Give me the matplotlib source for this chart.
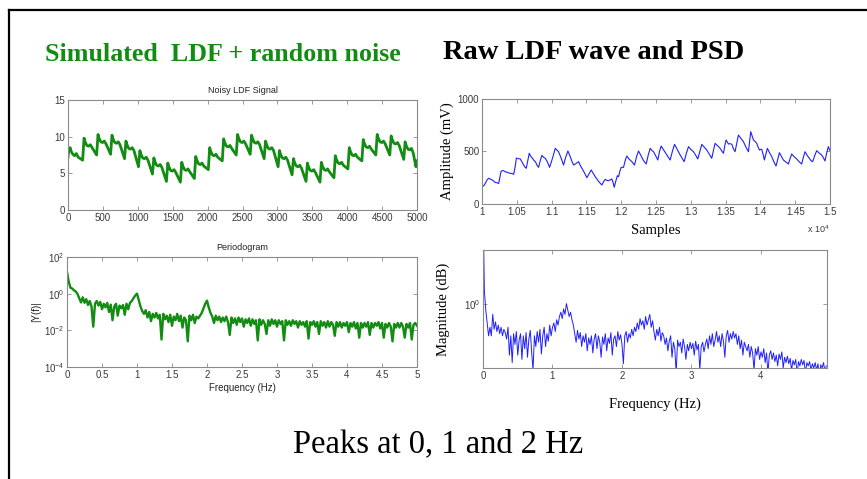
import numpy as np
import matplotlib
matplotlib.use('Agg')
import matplotlib.pyplot as plt
from matplotlib.lines import Line2D

plt.rcParams['font.family'] = ['Liberation Sans', 'DejaVu Sans']
plt.rcParams['mathtext.fontset'] = 'custom'
plt.rcParams['mathtext.rm'] = 'Liberation Sans'
plt.rcParams['mathtext.it'] = 'Liberation Sans:italic'

# --- noisy LDF signal (sample index, value) ---
sig_t = [0, 10, 30, 45, 70, 95, 120, 145, 210,
         230, 245, 270, 295, 320, 345, 410,
         430, 445, 470, 495, 520, 545, 610,
         630, 645, 670, 695, 720, 745, 810,
         830, 845, 870, 895, 920, 945, 1010,
         1030, 1045, 1070, 1095, 1120, 1145, 1210,
         1230, 1245, 1270, 1295, 1320, 1345, 1410,
         1430, 1445, 1470, 1495, 1520, 1545, 1610,
         1630, 1645, 1670, 1695, 1720, 1745, 1810,
         1830, 1845, 1870, 1895, 1920, 1945, 2010,
         2030, 2045, 2070, 2095, 2120, 2145, 2210,
         2230, 2245, 2270, 2295, 2320, 2345, 2410,
         2430, 2445, 2470, 2495, 2520, 2545, 2610,
         2630, 2645, 2670, 2695, 2720, 2745, 2810,
         2830, 2845, 2870, 2895, 2920, 2945, 3010,
         3030, 3045, 3070, 3095, 3120, 3145, 3210,
         3230, 3245, 3270, 3295, 3320, 3345, 3410,
         3430, 3445, 3470, 3495, 3520, 3545, 3610,
         3630, 3645, 3670, 3695, 3720, 3745, 3810,
         3830, 3845, 3870, 3895, 3920, 3945, 4010,
         4030, 4045, 4070, 4095, 4120, 4145, 4210,
         4230, 4245, 4270, 4295, 4320, 4345, 4410,
         4430, 4445, 4470, 4495, 4520, 4545, 4610,
         4630, 4645, 4670, 4695, 4720, 4745, 4810,
         4830, 4845, 4870, 4895, 4920, 4945, 4985, 5000]
sig_v = [7.2, 8.0, 8.5, 8.0, 7.6, 7.4, 7.7, 7.2, 6.8,
         9.8, 9.3, 8.8, 8.7, 8.9, 8.5, 7.5,
         10.3, 9.8, 9.3, 9.2, 9.4, 9.0, 7.6,
         10.2, 9.7, 9.2, 9.1, 9.3, 8.9, 7.0,
         9.4, 8.9, 8.4, 8.3, 8.5, 8.1, 5.9,
         8.1, 7.6, 7.1, 7.0, 7.2, 6.8, 4.9,
         7.1, 6.6, 6.1, 6.0, 6.2, 5.8, 3.9,
         6.4, 5.9, 5.4, 5.3, 5.5, 5.1, 3.8,
         6.5, 6.0, 5.5, 5.4, 5.6, 5.2, 4.3,
         7.3, 6.8, 6.3, 6.2, 6.4, 6.0, 5.5,
         8.5, 8.0, 7.5, 7.4, 7.6, 7.2, 6.7,
         9.7, 9.2, 8.7, 8.6, 8.8, 8.4, 7.5,
         10.3, 9.8, 9.3, 9.2, 9.4, 9.0, 7.6,
         10.2, 9.7, 9.2, 9.1, 9.3, 8.9, 7.0,
         9.4, 8.9, 8.4, 8.3, 8.5, 8.1, 5.9,
         8.1, 7.6, 7.1, 7.0, 7.2, 6.8, 4.8,
         7.0, 6.5, 6.0, 5.9, 6.1, 5.7, 3.9,
         6.4, 5.9, 5.4, 5.3, 5.5, 5.1, 3.8,
         6.5, 6.0, 5.5, 5.4, 5.6, 5.2, 4.4,
         7.4, 6.9, 6.4, 6.3, 6.5, 6.1, 5.6,
         8.5, 8.0, 7.5, 7.4, 7.6, 7.2, 6.7,
         9.6, 9.1, 8.6, 8.5, 8.7, 8.3, 7.5,
         10.3, 9.8, 9.3, 9.2, 9.4, 9.0, 7.5,
         10.1, 9.6, 9.1, 9.0, 9.2, 8.8, 6.9,
         9.3, 8.8, 8.3, 8.2, 8.4, 7.8, 5.9, 6.7]

# --- periodogram of the simulated signal, log10 |Y(f)|, 0..5 Hz ---
pgram_f = np.linspace(0, 5, 201)
pgram_log = [
    1.18, 0.65, 0.32, 0.28, 0.18, 0.12, -0.02, -0.25, -0.48, -0.20,
    -0.50, -0.30, -0.62, -0.40, -0.70, -1.80, -0.55, -0.40, -0.65, -0.45,
    -0.85, -0.55, -0.75, -0.50, -1.00, -0.60, -1.45, -0.70, -0.55, -1.20,
    -0.65, -0.80, -0.62, -1.15, -0.55, -0.85, -0.50, -0.40, -0.25, -0.10,
    0.00, -0.35, -0.70, -0.95, -1.10, -0.90, -1.30, -1.00, -1.50, -1.10,
    -1.30, -1.05, -1.35, -1.15, -2.50, -1.10, -1.40, -1.20, -1.55, -1.15,
    -1.75, -1.25, -1.45, -1.10, -1.50, -1.20, -1.85, -1.30, -1.45, -2.60,
    -1.20, -1.45, -1.15, -1.60, -1.25, -1.35, -1.20, -1.05, -0.80, -0.55,
    -0.38, -0.75, -1.05, -1.25, -1.60, -1.20, -1.45, -1.25, -1.55, -1.30,
    -1.50, -1.25, -1.55, -2.25, -1.30, -1.60, -1.35, -1.70, -1.30, -1.55,
    -1.35, -1.80, -1.40, -1.60, -1.35, -1.75, -1.40, -1.65, -1.45, -2.55,
    -1.40, -1.70, -1.45, -1.65, -2.20, -1.45, -1.75, -1.40, -1.65, -1.45,
    -1.80, -1.45, -1.65, -1.50, -2.55, -1.45, -1.70, -1.50, -1.75, -1.45,
    -1.65, -1.50, -1.85, -1.50, -1.70, -1.55, -1.80, -1.50, -2.45, -1.55,
    -1.70, -1.50, -1.80, -1.55, -2.20, -1.50, -1.75, -1.55, -1.85, -1.50,
    -1.80, -1.55, -1.70, -2.30, -1.55, -1.80, -1.55, -1.85, -1.60, -1.75,
    -1.55, -2.10, -1.60, -1.80, -1.55, -1.90, -1.60, -2.40, -1.60, -1.85,
    -1.60, -1.80, -1.55, -2.25, -1.60, -1.85, -1.60, -1.75, -1.55, -1.90,
    -1.60, -2.40, -1.65, -1.85, -1.60, -1.80, -2.60, -1.65, -1.85, -1.60,
    -1.85, -1.60, -1.80, -2.40, -1.65, -1.85, -1.60, -2.50, -1.70, -1.60,
    -1.75]

# --- raw LDF wave (sample, mV) ---
raw_t = [10000, 10003, 10024, 10050, 10072, 10095, 10120, 10145, 10167, 10190,
         10215, 10239, 10255, 10273, 10290, 10311, 10340, 10370, 10407, 10430,
         10455, 10475, 10494, 10520, 10550, 10575, 10598, 10620, 10636, 10660,
         10679, 10700, 10720, 10742, 10770, 10790, 10813, 10840, 10861, 10885,
         10909, 10940, 10971, 11010, 11053, 11075, 11100, 11135, 11172, 11200,
         11234, 11250, 11268, 11290, 11316, 11350, 11388, 11410, 11435, 11470,
         11507, 11540, 11569, 11600, 11627, 11675, 11722, 11745, 11770, 11795,
         11818, 11840, 11866, 11885, 11900, 11915, 11928, 11945, 11962, 11980,
         12000, 12033, 12060, 12081, 12110, 12153, 12191, 12220, 12249, 12285,
         12321, 12359, 12390, 12416, 12440, 12464, 12495, 12526, 12550, 12574,
         12615, 12656, 12703, 12735, 12766, 12805, 12847, 12904, 12935, 12967,
         13000, 13038, 13070, 13100, 13130, 13158, 13195, 13230, 13265, 13301,
         13325, 13349, 13385, 13421, 13445, 13469, 13490, 13507, 13525, 13541,
         13565, 13589, 13610, 13636, 13660, 13684, 13720, 13756, 13790, 13828,
         13845, 13861, 13880, 13900, 13925, 13947, 13965, 13986, 14000, 14019,
         14040, 14057, 14080, 14100, 14130, 14163, 14195, 14225, 14250, 14273,
         14300, 14330, 14365, 14402, 14425, 14450, 14485, 14522, 14560, 14593,
         14615, 14641, 14670, 14703, 14725, 14751, 14780, 14809, 14845, 14880,
         14905, 14928, 14950, 14976, 15000]
raw_mv = [700, 175, 171, 200, 229, 245, 238, 230, 219, 205,
          203, 195, 250, 308, 318, 317, 305, 300, 292, 290,
          283, 350, 438, 432, 429, 400, 371, 350, 340, 420,
          483, 455, 440, 419, 400, 370, 349, 420, 463, 445,
          435, 400, 349, 430, 530, 515, 498, 440, 371, 440,
          505, 480, 451, 410, 371, 385, 403, 370, 340, 300,
          251, 290, 324, 290, 260, 215, 181, 210, 235, 225,
          222, 230, 238, 200, 159, 200, 229, 270, 260, 310,
          349, 349, 420, 457, 430, 403, 371, 450, 505, 460,
          413, 381, 470, 530, 510, 498, 460, 419, 500, 552,
          510, 467, 419, 500, 568, 520, 467, 403, 480, 546,
          520, 498, 465, 429, 500, 568, 540, 514, 475, 435,
          510, 578, 555, 530, 505, 483, 560, 610, 590, 571,
          575, 568, 530, 498, 580, 657, 625, 594, 545, 498,
          600, 689, 650, 610, 595, 578, 545, 514, 520, 521,
          470, 419, 480, 530, 490, 451, 400, 362, 430, 489,
          455, 419, 400, 381, 430, 476, 450, 429, 400, 381,
          440, 498, 465, 435, 415, 403, 460, 508, 485, 467,
          440, 410, 480, 546, 508]
raw_xticks = [10000, 10500, 11000, 11500, 12000, 12500, 13000, 13500, 14000, 14500, 15000]
raw_xtick_labels = ['1', '1.05', '1.1', '1.15', '1.2', '1.25', '1.3', '1.35', '1.4', '1.45', '1.5']

# --- PSD of raw wave, log10 magnitude, 0..4.94 Hz ---
psd_f = np.arange(248) * 0.02
psd_log = [
    0.95, 0.12, -0.06, -0.18, -0.30, -0.22, -0.30, -0.10, -0.24, -0.17,
    -0.26, -0.20, -0.28, -0.22, -0.30, -0.24, -0.27, -0.33, -0.22, -0.48,
    -0.30, -0.55, -0.28, -0.38, -0.26, -0.48, -0.34, -0.28, -0.52, -0.30,
    -0.42, -0.27, -0.50, -0.33, -0.25, -0.45, -0.62, -0.30, -0.40, -0.26,
    -0.36, -0.24, -0.47, -0.30, -0.22, -0.40, -0.28, -0.35, -0.20, -0.30,
    -0.22, -0.18, -0.26, -0.15, -0.20, -0.12, -0.08, -0.14, -0.05, -0.10,
    0.00, -0.06, -0.12, -0.08, -0.15, -0.20, -0.28, -0.36, -0.25, -0.33,
    -0.27, -0.40, -0.30, -0.36, -0.28, -0.44, -0.32, -0.38, -0.30, -0.46,
    -0.33, -0.28, -0.42, -0.30, -0.36, -0.50, -0.31, -0.38, -0.28, -0.44,
    -0.32, -0.37, -0.27, -0.48, -0.33, -0.30, -0.40, -0.26, -0.34, -0.29,
    -0.38, -0.56, -0.30, -0.26, -0.36, -0.28, -0.32, -0.24, -0.30, -0.22,
    -0.26, -0.18, -0.24, -0.14, -0.20, -0.16, -0.24, -0.12, -0.20, -0.15,
    -0.10, -0.22, -0.16, -0.26, -0.34, -0.24, -0.30, -0.22, -0.35, -0.27,
    -0.30, -0.38, -0.32, -0.44, -0.35, -0.30, -0.50, -0.36, -0.42, -0.65,
    -0.34, -0.40, -0.36, -0.46, -0.33, -0.40, -0.52, -0.38, -0.44, -0.36,
    -0.42, -0.37, -0.48, -0.35, -0.43, -0.38, -0.62, -0.40, -0.36, -0.45,
    -0.38, -0.33, -0.42, -0.30, -0.38, -0.28, -0.40, -0.34, -0.26, -0.36,
    -0.30, -0.40, -0.28, -0.35, -0.50, -0.30, -0.25, -0.36, -0.28, -0.33,
    -0.26, -0.32, -0.28, -0.38, -0.30, -0.42, -0.34, -0.48, -0.36, -0.40,
    -0.44, -0.38, -0.50, -0.40, -0.46, -0.62, -0.42, -0.48, -0.40, -0.52,
    -0.45, -0.50, -0.42, -0.55, -0.46, -0.65, -0.48, -0.44, -0.52, -0.46,
    -0.54, -0.48, -0.58, -0.47, -0.52, -0.45, -0.60, -0.50, -0.55, -0.49,
    -0.56, -0.51, -0.62, -0.53, -0.57, -0.52, -0.66, -0.54, -0.58, -0.52,
    -0.57, -0.53, -0.65, -0.55, -0.58, -0.54, -0.62, -0.56, -0.60, -0.55,
    -0.62, -0.56, -0.68, -0.57, -0.60, -0.55, -0.63, -0.58]

GREEN = '#138c13'
SPINE = '#8a8a8a'
TICKTXT = '#3a3a3a'


def matlab_axes(ax):
    for s in ax.spines.values():
        s.set_color(SPINE)
        s.set_linewidth(0.8)
    ax.tick_params(direction='in', length=3, width=0.6, color=SPINE,
                   top=True, right=True, labelsize=7, labelcolor=TICKTXT, pad=2)
    ax.minorticks_off()


fig = plt.figure(figsize=(8.67, 4.79), dpi=100)
W, H = 867.0, 479.0


def px_axes(left, top, right, bottom):
    return fig.add_axes([left / W, 1 - bottom / H, (right - left) / W, (bottom - top) / H])


# slide frame
fig.add_artist(Line2D([9 / W, 1], [1 - 10 / H, 1 - 10 / H], color='black', lw=1.6))
fig.add_artist(Line2D([9 / W, 9 / W], [0, 1 - 10 / H], color='black', lw=1.6))

fig.text(45 / W, 1 - 61 / H, 'Simulated  LDF + random noise', color=GREEN,
         family='Liberation Serif', weight='bold', fontsize=18.7, va='baseline')
fig.text(443 / W, 1 - 59 / H, 'Raw LDF wave and PSD', color='black',
         family='Liberation Serif', weight='bold', fontsize=20.5, va='baseline')
fig.text(438 / W, 1 - 452 / H, 'Peaks at 0, 1 and 2 Hz', color='black',
         family='Liberation Serif', fontsize=23.5, va='baseline', ha='center')

# top-left: noisy signal
ax1 = px_axes(68, 100, 417, 210)
ax1.plot(sig_t, sig_v, color=GREEN, lw=2.0)
ax1.set_xlim(0, 5000)
ax1.set_ylim(0, 15)
ax1.set_xticks(range(0, 5001, 500))
ax1.set_yticks([0, 5, 10, 15])
ax1.set_title('Noisy LDF Signal', fontsize=6.5, color='#222222', pad=5)
matlab_axes(ax1)

# bottom-left: periodogram
ax2 = px_axes(67, 257, 417, 367)
ax2.semilogy(pgram_f, 10.0 ** np.array(pgram_log), color=GREEN, lw=1.7)
ax2.set_xlim(0, 5)
ax2.set_ylim(1e-4, 1e2)
ax2.set_xticks(np.arange(0, 5.01, 0.5))
ax2.set_xticklabels(['0', '0.5', '1', '1.5', '2', '2.5', '3', '3.5', '4', '4.5', '5'])
ax2.set_yticks([1e-4, 1e-2, 1e0, 1e2])
ax2.set_yticklabels(['$10^{-4}$', '$10^{-2}$', '$10^{0}$', '$10^{2}$'])
ax2.set_title('Periodogram', fontsize=6.5, color='#222222', pad=5)
ax2.set_xlabel('Frequency (Hz)', fontsize=7, color='#222222', labelpad=2)
ax2.set_ylabel('|Y(f)|', fontsize=7, color='#222222', labelpad=2)
matlab_axes(ax2)

# top-right: raw wave
ax3 = px_axes(482, 99, 830, 204)
ax3.plot(raw_t, raw_mv, color='#1f1fff', lw=0.8)
ax3.set_xlim(10000, 15000)
ax3.set_ylim(0, 1000)
ax3.set_xticks(raw_xticks)
ax3.set_xticklabels(raw_xtick_labels)
ax3.set_yticks([0, 500, 1000])
ax3.set_xlabel('Samples', family='Liberation Serif', fontsize=10.5, labelpad=5)
ax3.set_ylabel('Amplitude (mV)', family='Liberation Serif', fontsize=10.5, labelpad=3)
matlab_axes(ax3)
fig.text(818 / W, 1 - 233 / H, 'x $10^{4}$', fontsize=6.5, color=TICKTXT, ha='center')

# bottom-right: PSD
ax4 = px_axes(483, 250, 827, 368)
ax4.semilogy(psd_f, 10.0 ** np.array(psd_log), color='#1f1fff', lw=0.7)
ax4.set_xlim(0, 4.95)
ax4.set_ylim(10 ** -0.6, 10 ** 0.5)
ax4.set_xticks([0, 1, 2, 3, 4])
ax4.set_yticks([1.0])
ax4.set_yticklabels(['$10^{0}$'])
ax4.set_xlabel('Frequency (Hz)', family='Liberation Serif', fontsize=10.5, labelpad=12)
ax4.set_ylabel('Magnitude (dB)', family='Liberation Serif', fontsize=10.5, labelpad=10)
matlab_axes(ax4)
ax4.minorticks_off()

fig.savefig('out.png', dpi=100)
